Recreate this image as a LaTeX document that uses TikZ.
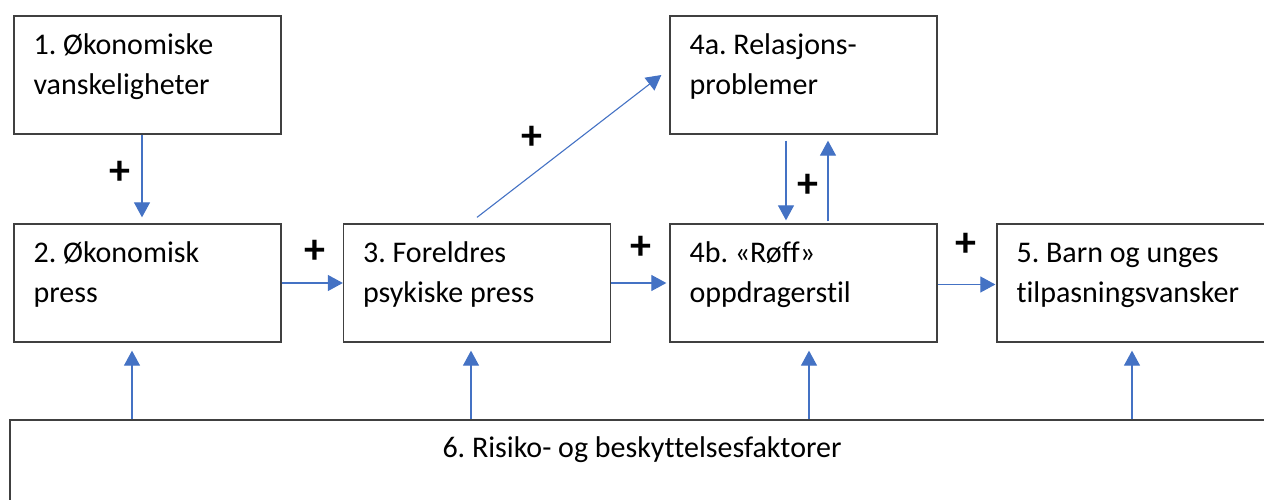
\documentclass[tikz,border=0pt]{standalone}
\usepackage{fontspec}
\setmainfont{Carlito}[Ligatures=NoCommon]
\frenchspacing
\usetikzlibrary{arrows.meta,calc}
\definecolor{boxline}{HTML}{404040}
\definecolor{arrowblue}{HTML}{4472C4}
\begin{document}
\begin{tikzpicture}[x=1pt,y=-1pt,
  box/.style={draw=boxline, line width=1.3pt, rectangle,
    minimum width=267pt, minimum height=118pt, inner sep=0pt},
  boxtext/.style={anchor=north west, inner sep=0pt, align=left,
    font=\fontsize{30}{40}\selectfont},
  arr/.style={draw=arrowblue, line width=1.1pt,
    -{Triangle[length=15pt,width=16pt]}},
  plus/.style={font=\fontsize{42}{42}\selectfont\bfseries, inner sep=0pt}]
\useasboundingbox (0,0) rectangle (1264,500);
\clip (0,0) rectangle (1264,500);

% boxes
\node[box] (b1)  at (147.5,75)  {};
\node[box] (b2)  at (147.5,283) {};
\node[box] (b3)  at (477,283)   {};
\node[box] (b4a) at (803.5,75)  {};
\node[box] (b4b) at (803.5,283) {};
\node[box, minimum width=273pt] (b5) at (1133.5,283) {};
\node[box, minimum width=1264pt, minimum height=100pt] (b6) at (642,470) {};

% box texts
\newcommand{\firstline}{\rule{0pt}{25pt}}
\node[boxtext] (t1)  at ($(b1.north west)+(20,14)$)  {\firstline 1. Økonomiske\\vanskeligheter};
\node[boxtext] (t2)  at ($(b2.north west)+(20,14)$)  {\firstline 2. Økonomisk\\press};
\node[boxtext] (t3)  at ($(b3.north west)+(20,14)$)  {\firstline 3. Foreldres\\psykiske press};
\node[boxtext] (t4a) at ($(b4a.north west)+(20,14)$) {\firstline 4a. Relasjons-\\problemer};
\node[boxtext] (t4b) at ($(b4b.north west)+(20,14)$) {\firstline 4b. «Røff»\\oppdragerstil};
\node[boxtext] (t5)  at ($(b5.north west)+(20,14)$)  {\firstline 5. Barn og unges\\tilpasningsvansker};
\node[anchor=base, inner sep=0pt, font=\fontsize{30}{40}\selectfont] (t6)
  at ($(b6.north)+(0,38)$) {6. Risiko- og beskyttelsesfaktorer};

% causal links
\draw[arr] ([xshift=-5.5pt]b1.south) -- ([xshift=-5.5pt,yshift=6pt]b2.north);
\draw[arr] (b2.east) -- (b3.west);
\draw[arr] (b3.east) -- ([xshift=-3pt]b4b.west);
\draw[arr] ([yshift=-1.5pt]b4b.east) -- ([xshift=-1pt,yshift=-1.5pt]b5.west);
\draw[arr] ([yshift=6pt]b3.north) -- ([xshift=-8pt]b4a.west);
\draw[arr] ([xshift=-17.5pt,yshift=-6pt]b4a.south) -- ([xshift=-17.5pt,yshift=3pt]b4b.north);
\draw[arr] ([xshift=24.5pt,yshift=2pt]b4b.north) -- ([xshift=24.5pt,yshift=-6pt]b4a.south);

% influences of risk and protective factors
\coordinate (s2)  at ([xshift=-15.5pt]b2.south);
\coordinate (s3)  at ([xshift=-6pt]b3.south);
\coordinate (s4b) at ([xshift=5.5pt]b4b.south);
\coordinate (s5)  at ([xshift=-1.5pt]b5.south);
\foreach \s in {s2,s3,s4b,s5}
  \draw[arr] (\s |- b6.north) -- ([yshift=-8pt]\s);

% signs
\node[plus] (p12)  at (120,173) {+};
\node[plus] (p23)  at (315,252) {+};
\node[plus] (p34a) at (532,138) {+};
\node[plus] (p34b) at (641,248) {+};
\node[plus] (p44)  at (808,186) {+};
\node[plus] (p45)  at (966,245) {+};
\end{tikzpicture}
\end{document}
